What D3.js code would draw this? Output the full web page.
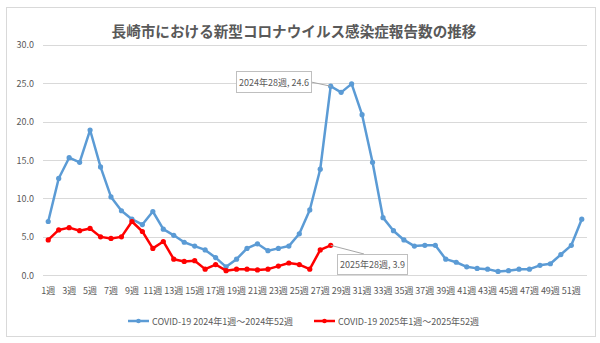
<!DOCTYPE html>
<html><head><meta charset="utf-8">
<script src="https://cdn.jsdelivr.net/npm/d3@7"></script>
<style>
html,body{margin:0;padding:0;background:#fff;}
svg{display:block;font-family:"Noto Sans CJK JP","Noto Sans",sans-serif;}
</style></head>
<body>
<script>
const title = "長崎市における新型コロナウイルス感染症報告数の推移";
const weeks = d3.range(1, 53);
const weekLabels = weeks.map(w => w + "週");
const series2024Name = "COVID-19 2024年1週～2024年52週";
const series2025Name = "COVID-19 2025年1週～2025年52週";
const values2024 = [7.0,12.6,15.3,14.7,18.9,14.1,10.2,8.4,7.3,6.6,8.3,6.0,5.2,4.3,3.8,3.3,2.3,1.1,2.1,3.5,4.1,3.2,3.5,3.8,5.4,8.5,13.8,24.6,23.8,24.9,20.9,14.7,7.5,5.8,4.6,3.8,3.9,3.9,2.1,1.7,1.1,0.9,0.8,0.5,0.6,0.8,0.8,1.3,1.5,2.7,3.9,7.3];
const values2025 = [4.6,5.9,6.2,5.8,6.1,5.0,4.8,5.0,7.0,5.7,3.5,4.4,2.1,1.8,1.9,0.8,1.4,0.6,0.8,0.8,0.7,0.8,1.2,1.6,1.4,0.8,3.3,3.9];
const yTicks = [0,5,10,15,20,25,30];

const W = 600, H = 343;
const svg = d3.select("body").append("svg").attr("width", W).attr("height", H);

// outer border
svg.append("rect").attr("x",6.5).attr("y",7.5).attr("width",589).attr("height",329)
  .attr("fill","#fff").attr("stroke","#d9d9d9").attr("stroke-width",1);

const x = d3.scaleBand().domain(weeks).range([43, 587]).padding(0);
const y = d3.scaleLinear().domain([0, 30]).range([275.3, 44.7]);
const cx = w => x(w) + x.bandwidth()/2;

// title
svg.append("text").attr("x", 294).attr("y", 30).attr("text-anchor","middle")
  .attr("dominant-baseline","central").attr("font-size", 14.6).attr("font-weight", 700)
  .attr("fill","#595959").text(title);

// gridlines
svg.append("g").selectAll("line").data(yTicks).join("line")
  .attr("x1", 43).attr("x2", 587).attr("y1", d => Math.round(y(d))+0.5).attr("y2", d => Math.round(y(d))+0.5)
  .attr("stroke", "#d9d9d9").attr("stroke-width", 1);

// y labels
svg.append("g").selectAll("text").data(yTicks).join("text")
  .attr("x", 34).attr("y", d => y(d)).attr("text-anchor","end").attr("dominant-baseline","central")
  .attr("font-size", 9).attr("fill","#595959").text(d => d.toFixed(1));

// x labels
svg.append("g").selectAll("text").data(weeks.filter(w => w % 2 === 1)).join("text")
  .attr("x", d => cx(d)).attr("y", 290).attr("text-anchor","middle").attr("dominant-baseline","central")
  .attr("font-size", 9).attr("fill","#595959").text(d => weekLabels[d-1]);

function drawSeries(vals, color) {
  const data = vals.map((v,i) => ({w: weeks[i], v}));
  const line = d3.line().x(d => cx(d.w)).y(d => y(d.v));
  svg.append("path").datum(data).attr("d", line).attr("fill","none")
    .attr("stroke", color).attr("stroke-width", 2.5).attr("stroke-linejoin","round");
  svg.append("g").selectAll("circle").data(data).join("circle")
    .attr("cx", d => cx(d.w)).attr("cy", d => y(d.v)).attr("r", 2.6).attr("fill", color);
}
drawSeries(values2024, "#5B9BD5");
drawSeries(values2025, "#FF0000");

// annotations
function annotate(w, v, bx, by, bw, bh, lx, ly, text) {
  svg.append("line").attr("x1", cx(w)).attr("y1", y(v)).attr("x2", lx).attr("y2", ly)
    .attr("stroke","#a6a6a6").attr("stroke-width",1);
  svg.append("rect").attr("x", bx+0.5).attr("y", by+0.5).attr("width", bw).attr("height", bh)
    .attr("fill","#fff").attr("stroke","#bfbfbf").attr("stroke-width",1);
  svg.append("text").attr("x", bx + bw/2 + 0.5).attr("y", by + bh/2 + 0.5).attr("text-anchor","middle")
    .attr("dominant-baseline","central").attr("font-size", 9).attr("fill","#595959").text(text);
}
annotate(28, values2024[27], 236, 71, 75, 21, 311, 82, "2024年28週, " + values2024[27].toFixed(1));
annotate(28, values2025[27], 337, 254, 70, 20, 364, 254, "2025年28週, " + values2025[27].toFixed(1));

// legend
function legendItem(x0, color, label) {
  const g = svg.append("g");
  g.append("line").attr("x1", x0).attr("x2", x0+21).attr("y1", 321).attr("y2", 321)
    .attr("stroke", color).attr("stroke-width", 2.5);
  g.append("circle").attr("cx", x0+10.5).attr("cy", 321).attr("r", 2.3).attr("fill", color);
  g.append("text").attr("x", x0+24).attr("y", 321).attr("dominant-baseline","central")
    .attr("font-size", 9).attr("fill","#595959").text(label);
}
legendItem(128, "#5B9BD5", series2024Name);
legendItem(314, "#FF0000", series2025Name);
</script>
</body></html>
